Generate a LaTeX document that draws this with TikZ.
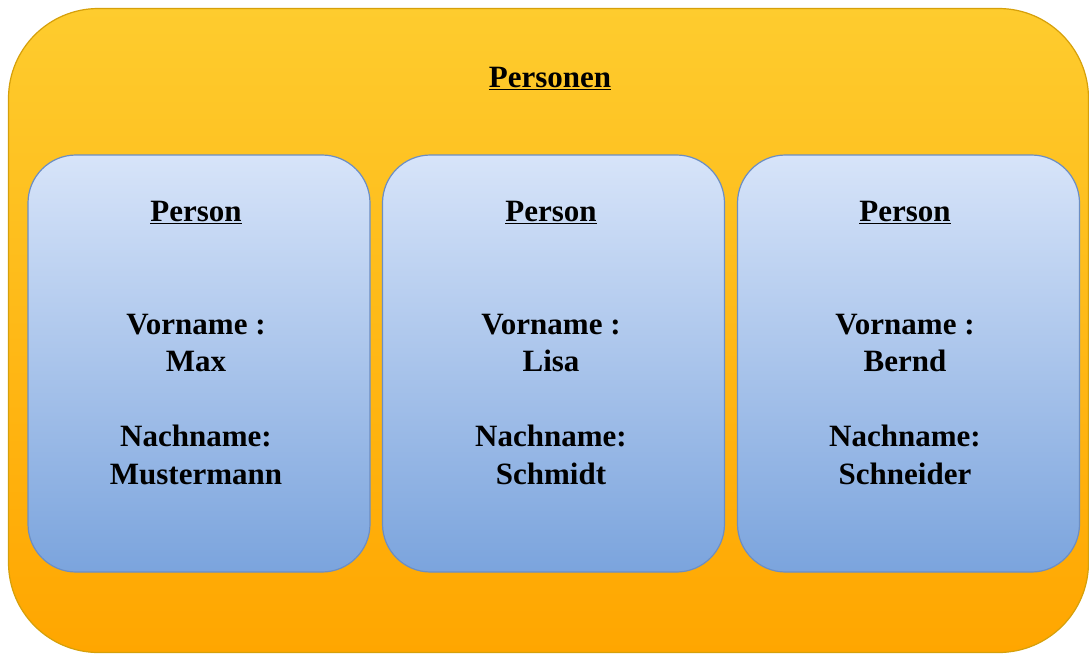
\documentclass[tikz,border=0pt]{standalone}
\usepackage{fontspec}
\setmainfont{Liberation Serif}
\definecolor{outTop}{RGB}{254,204,46}
\definecolor{outBot}{RGB}{255,166,0}
\definecolor{outLine}{RGB}{214,160,10}
\definecolor{inTop}{RGB}{215,228,249}
\definecolor{inBot}{RGB}{123,164,221}
\definecolor{inLine}{RGB}{108,142,195}
\tikzset{
  outerbox/.style={draw=outLine, line width=1.2pt, rounded corners=90pt, top color=outTop, bottom color=outBot, minimum width=1080pt, minimum height=644pt, inner sep=0pt},
  personbox/.style={draw=inLine, line width=1.2pt, rounded corners=48pt, top color=inTop, bottom color=inBot, minimum width=342pt, minimum height=417pt, inner sep=0pt},
  lbl/.style={font=\fontsize{31}{37.5}\selectfont\bfseries, align=center, inner sep=0pt, text=black}
}
\begin{document}
\begin{tikzpicture}[x=1pt,y=-1pt]
\useasboundingbox (0,0) rectangle (1089,653);
\node[outerbox] (outer) at (548.5,330.5) {};
\node[lbl, anchor=base] (title) at (550,87) {\underline{Personen}};
\node[personbox] (p1) at (199,363.5) {};
\node[personbox] (p2) at (553.5,363.5) {};
\node[personbox] (p3) at (908.5,363.5) {};
\node[lbl, anchor=base] (t1) at (196,221) {\underline{Person}};
\node[lbl, anchor=base] (t2) at (551,221) {\underline{Person}};
\node[lbl, anchor=base] (t3) at (905,221) {\underline{Person}};
\node[lbl] (c1) at (196,399.5) {Vorname :\\Max\\[37.5pt]Nachname:\\Mustermann};
\node[lbl] (c2) at (551,399) {Vorname :\\Lisa\\[37.5pt]Nachname:\\Schmidt};
\node[lbl] (c3) at (905,399) {Vorname :\\Bernd\\[37.5pt]Nachname:\\Schneider};
\end{tikzpicture}
\end{document}
